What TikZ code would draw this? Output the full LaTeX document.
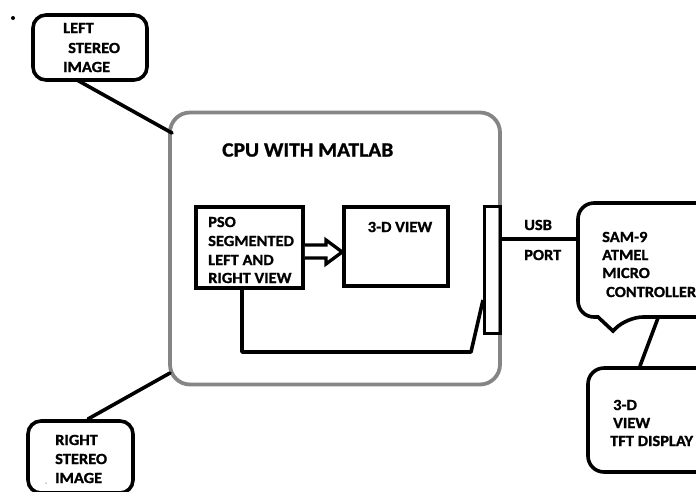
\documentclass[tikz,border=0pt]{standalone}
\usepackage{fontspec}
\setmainfont{Carlito}[FakeStretch=1.06,BoldFeatures={FakeBold=1.2}]
\begin{document}
\begin{tikzpicture}[x=1pt,y=-1pt,
  blk/.style={draw=black,line width=3.6pt},
  gbox/.style={draw=black!48,line width=3.8pt,rounded corners=20pt},
  lbl/.style={anchor=west,inner sep=0pt,font=\bfseries\fontsize{15.5}{17}\selectfont},
  ttl/.style={anchor=west,inner sep=0pt,font=\bfseries\fontsize{20.3}{22}\selectfont},
  wire/.style={line width=3.6pt,line cap=round,line join=round}]
\useasboundingbox (0,0) rectangle (696,491);
\clip (0,0) rectangle (696,491);
% dots
\fill (13,18) circle (2pt);
\fill (46,483) circle (0.5pt);
% CPU box
\node[gbox,minimum width=330pt,minimum height=272pt,inner sep=0pt] (cpu) at (335,248.5) {};
\node[ttl] (cputxt) at (222,150) {CPU WITH MATLAB};
% left stereo
\node[blk,rounded corners=13pt,minimum width=114pt,minimum height=65pt,inner sep=0pt] (lsi) at (90,47.5) {};
\node[lbl] at (63,28) {LEFT};
\node[lbl] at (68,48) {STEREO};
\node[lbl] at (63,67) {IMAGE};
% right stereo
\node[blk,rounded corners=13pt,minimum width=105pt,minimum height=72pt,inner sep=0pt] (rsi) at (80.5,457) {};
\node[lbl] at (55,440) {RIGHT};
\node[lbl] at (55,459) {STEREO};
\node[lbl] at (55,478) {IMAGE};
% connectors to CPU
\coordinate (lsiA) at (77,80);
\coordinate (cpuA) at (172,133);
\draw[wire] (lsiA) -- (cpuA);
\coordinate (rsiA) at (88,419);
\coordinate (cpuB) at (170,373);
\draw[wire] (rsiA) -- (cpuB);
% PSO box
\node[blk,minimum width=107pt,minimum height=81pt,inner sep=0pt] (pso) at (249.5,247.5) {};
\node[lbl] at (208,222) {PSO};
\node[lbl] at (208,241) {SEGMENTED};
\node[lbl] at (208,260) {LEFT AND};
\node[lbl] at (208,278) {RIGHT VIEW};
% 3-D view box
\node[blk,minimum width=104pt,minimum height=79pt,inner sep=0pt] (v3d) at (396,246.5) {};
\node[lbl,anchor=center] at (400,227) {3-D VIEW};
% double arrow
\draw[line width=3.3pt,line join=miter,fill=white]
  (pso.east |- 0,245) -- (326,245) -- (326,240) -- (v3d.west |- 0,252) -- (326,264) -- (326,258) -- (pso.east |- 0,258);
% port
\node[blk,minimum width=16pt,minimum height=127pt,inner sep=0pt] (port) at (492.5,270) {};
% feedback wire
\coordinate (fb1) at (242,352);
\coordinate (fb2) at (471,352);
\coordinate (fb3) at (483,300);
\draw[wire,line cap=butt] (pso.south -| fb1) -- (fb1) -- (fb2) -- (fb3);
% SAM bubble
\draw[blk,rounded corners=16pt] (578,240) -- (578,203) -- (720,203) -- (720,317) -- (627,317) [sharp corners]-- (613,331) -- (598,317) [rounded corners=16pt] -- (578,317) -- (578,240);
\coordinate (sam) at (578,239);
\coordinate (samB) at (658,318);
\node[lbl] at (602,237) {SAM-9};
\node[lbl] at (602,255) {ATMEL};
\node[lbl] at (602,273) {MICRO};
\node[lbl] at (606,292) {CONTROLLER};
% USB wire
\draw[wire,line cap=butt] (port.east |- sam) -- (sam);
\node[lbl] at (524,225) {USB};
\node[lbl] at (524,255) {PORT};
% TFT
\node[blk,rounded corners=16pt,minimum width=140pt,minimum height=104pt,inner sep=0pt] (tft) at (658,420) {};
\node[lbl] at (613,405) {3-D};
\node[lbl] at (613,423) {VIEW};
\node[lbl] at (610,441) {TFT DISPLAY};
\coordinate (tftT) at (640,366);
\draw[wire] (samB) -- (tftT);
\end{tikzpicture}
\end{document}
